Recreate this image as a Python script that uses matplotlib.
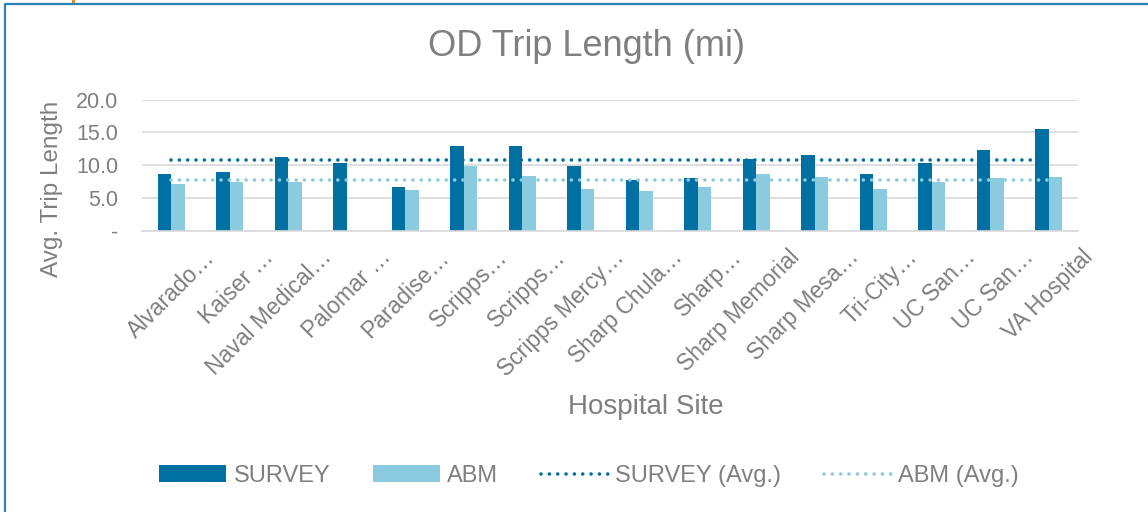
import matplotlib
matplotlib.use('Agg')
import matplotlib.pyplot as plt
import matplotlib.transforms as mtransforms
from matplotlib.lines import Line2D
from matplotlib.patches import Rectangle
import numpy as np

plt.rcParams['font.family'] = ['Liberation Sans', 'DejaVu Sans']

sites = ['Alvarado…', 'Kaiser …', 'Naval Medical…', 'Palomar …', 'Paradise…',
         'Scripps…', 'Scripps…', 'Scripps Mercy…', 'Sharp Chula…', 'Sharp…',
         'Sharp Memorial', 'Sharp Mesa…', 'Tri-City…', 'UC San…', 'UC San…',
         'VA Hospital']
survey = [8.7, 9.0, 11.2, 10.3, 6.6, 12.9, 13.0, 9.9, 7.7, 8.1, 11.0, 11.5,
          8.6, 10.4, 12.3, 15.6]
abm = [7.1, 7.5, 7.5, 0.0, 6.2, 9.9, 8.4, 6.4, 6.0, 6.7, 8.6, 8.2, 6.3, 7.4,
       8.0, 8.2]
survey_avg = 10.8
abm_avg = 7.75
yticks = [0, 5, 10, 15, 20]
ytick_labels = ['-', '5.0', '10.0', '15.0', '20.0']

dark = '#006fa1'
light = '#8bcbdf'
grey = '#7f7f7f'

W, H = 1148, 512
fig = plt.figure(figsize=(W / 100, H / 100), dpi=100)
ax = fig.add_axes([142 / W, 1 - 230.7 / H, 936 / W, 131 / H])

x = np.arange(len(sites))
bw = 0.227
b1 = ax.bar(x - bw / 2, survey, bw, color=dark, label='SURVEY', zorder=2)
b2 = ax.bar(x + bw / 2, abm, bw, color=light, label='ABM', zorder=2)
dots = (0, (0.01, 2.3))
l1, = ax.plot(x, np.full(len(x), survey_avg), color=dark, lw=2.6, ls=dots,
              dash_capstyle='round', label='SURVEY (Avg.)', zorder=3)
l2, = ax.plot(x, np.full(len(x), abm_avg), color=light, lw=2.6, ls=dots,
              dash_capstyle='round', label='ABM (Avg.)', zorder=3)

ax.set_xlim(-0.5, len(sites) - 0.5)
ax.set_ylim(0, 20)
ax.set_yticks(yticks)
ax.set_yticklabels(ytick_labels)
ax.yaxis.grid(True, color='#d9d9d9', lw=1.2, zorder=0)
ax.set_axisbelow(True)
for s in ['top', 'right', 'left']:
    ax.spines[s].set_visible(False)
ax.spines['bottom'].set_color('#d9d9d9')
ax.spines['bottom'].set_linewidth(1.2)
ax.tick_params(axis='y', length=0, pad=17, labelsize=15.5, labelcolor=grey)
ax.tick_params(axis='x', length=0, pad=0, labelsize=16.5, labelcolor=grey)

ax.set_xticks(x)
ax.set_xticklabels(sites)
shift = mtransforms.ScaledTranslation(0.32, -0.15, fig.dpi_scale_trans)
for lab in ax.get_xticklabels():
    lab.set_rotation(45)
    lab.set_ha('right')
    lab.set_va('top')
    lab.set_rotation_mode('anchor')
    lab.set_transform(lab.get_transform() + shift)

ax.set_ylabel('Avg. Trip Length', fontsize=17.5, color=grey, va='center')
ax.yaxis.set_label_coords((52 - 142) / 936, 0.318)
ax.set_xlabel('Hospital Site', fontsize=20, color=grey, va='center')
ax.xaxis.set_label_coords((645.5 - 142) / 936, (230.7 - 407) / 131)

fig.text(586.5 / W, 1 - 46 / H, 'OD Trip Length (mi)', fontsize=26,
         color=grey, ha='center', va='center')

fig.legend(handles=[b1, b2, l1, l2], loc='center',
           bbox_to_anchor=(589 / W, 1 - 476 / H), ncol=4,
           frameon=False, fontsize=17, labelcolor=grey, handlelength=2.85,
           handletextpad=0.3, columnspacing=1.8)

# chart frame
fig.add_artist(Line2D([5 / W, 5 / W, 1.0], [0.0, 1 - 3.5 / H, 1 - 3.5 / H],
                      transform=fig.transFigure, color='#2a82b6', lw=1.6))
fig.add_artist(Rectangle((72 / W, 1 - 3 / H), 3 / W, 3 / H,
                         transform=fig.transFigure, color='#e8882a', lw=0))

fig.savefig('out.png', dpi=100)
